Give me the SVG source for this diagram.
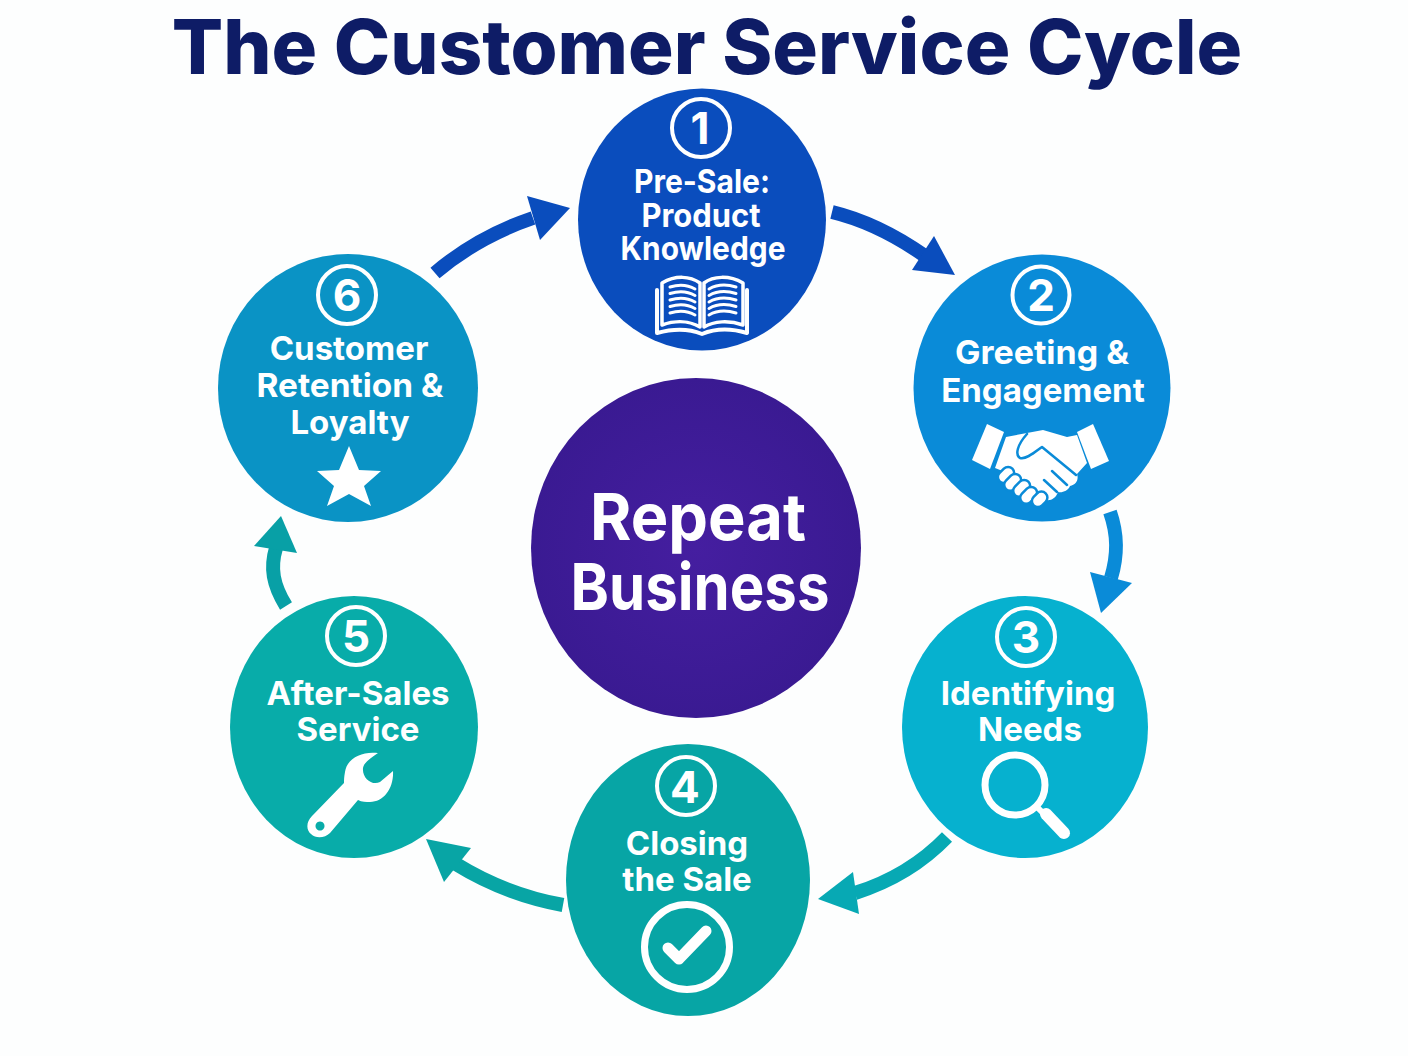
<svg xmlns="http://www.w3.org/2000/svg" width="1408" height="1056" viewBox="0 0 1408 1056">
<style>
text{font-family:"Inter","Liberation Sans",sans-serif;font-weight:700;fill:#fff;text-anchor:middle}
.l{font-size:33px}
.n{font-size:44px}
.b{fill:none;stroke:#fff;stroke-width:4}
.i{fill:#fff}
.is{fill:none;stroke:#fff;stroke-linecap:round;stroke-linejoin:round}
.s{fill:none;stroke-width:14}
</style>
<defs>
<radialGradient id="gc"><stop offset="0" stop-color="#451ea0"/><stop offset="1" stop-color="#3a1a92"/></radialGradient>
</defs>
<rect width="1408" height="1056" fill="#fdfefe"/>
<text id="title" x="707" y="74" style="font-size:76px;font-weight:800;fill:#0e1c66">The Customer Service Cycle</text>
<g id="connectors">
<path class="s" stroke="#0a4dbd" d="M832 212C865 220 895 235 925 256"/><polygon fill="#0a4dbd" points="955,275 912,270 934,236"/>
<path class="s" stroke="#0a8bd8" d="M1110 512C1118 535 1118 555 1111 578"/><polygon fill="#0a8bd8" points="1101,613 1090,572 1132,583"/>
<path class="s" stroke="#07a9b4" d="M947 837C920 865 890 882 855 893"/><polygon fill="#07a9b4" points="818,899 853,872 859,914"/>
<path class="s" stroke="#08a5a5" d="M563 905C525 898 490 885 456 864"/><polygon fill="#08a5a5" points="426,839 471,848 444,882"/>
<path class="s" stroke="#08a0a6" d="M286 606C273 585 270 568 276 548"/><polygon fill="#08a0a6" points="281,516 297,553 254,546"/>
<path class="s" stroke="#0a4dbd" d="M435 273C462 250 495 231 533 218"/><polygon fill="#0a4dbd" points="570,208 540,240 527,196"/>
</g>
<g id="node1">
<ellipse cx="702" cy="219.5" rx="124" ry="131" fill="#0a4dbd"/>
<circle class="b" cx="701" cy="128" r="29"/><text class="n" x="700" y="144">1</text>
<text class="l" x="702" y="193" textLength="136" lengthAdjust="spacingAndGlyphs">Pre-Sale:</text><text class="l" x="701" y="227" textLength="119" lengthAdjust="spacingAndGlyphs">Product</text><text class="l" x="703" y="260" textLength="165" lengthAdjust="spacingAndGlyphs">Knowledge</text>
<path class="is" stroke-width="3.500" d="M662 283C676 275 690 276 700 283V327C690 321 676 320 662 325ZM743 283C729 275 713 276 704 283V327C714 321 729 320 743 325Z"/>
<path class="is" stroke-width="3" d="M670 287C680 284 688 285 695 289M670 293.500C680 290.500 688 291.500 695 295.500M670 300C680 297 688 298 695 302M670 306.500C680 303.500 688 304.500 695 308.500M670 313C680 310 688 311 695 315M709 289C716 285 726 284 736 287M709 295.500C716 291.500 726 290.500 736 293.500M709 302C716 298 726 297 736 300M709 308.500C716 304.500 726 303.500 736 306.500M709 315C716 311 726 310 736 313"/>
<path class="is" stroke-width="4" d="M657 290V333C675 328 690 329 702 334C714 329 730 328 747 333V290"/>
</g>
<g id="node2">
<ellipse cx="1042" cy="388" rx="128.500" ry="133.500" fill="#0a8bd8"/>
<circle class="b" cx="1041" cy="295" r="28.500"/><text class="n" x="1041" y="311">2</text>
<text class="l" x="1042" y="364" textLength="174" lengthAdjust="spacingAndGlyphs">Greeting &amp;</text><text class="l" x="1043" y="402">Engagement</text>
<polygon class="i" points="987,424 1004,432 990,469 972,460"/><polygon class="i" points="1093,424 1109,461 1091,469 1077,432"/>
<path class="i" d="M995 468L1006 437L1027 433L1043 430L1067 437L1077 435L1087 463L1077 474C1079 480 1076 485 1070 486C1068 491 1062 493 1058 492C1056 498 1051 501 1046 500L1036 490L1015 476Z"/>
<g stroke="#0a8bd8" stroke-width="2.500" fill="#fff">
<rect x="1000" y="466" width="12" height="18" rx="6" transform="rotate(45 1006 475)"/>
<rect x="1007" y="473" width="12" height="19" rx="6" transform="rotate(45 1013 482)"/>
<rect x="1016" y="479" width="12" height="19" rx="6" transform="rotate(45 1022 488)"/>
<rect x="1023" y="486" width="12" height="19" rx="6" transform="rotate(45 1029 495)"/>
<rect x="1034" y="491" width="12" height="17" rx="6" transform="rotate(45 1040 499)"/>
</g>
<path fill="none" stroke="#0a8bd8" stroke-width="2.500" stroke-linecap="round" stroke-linejoin="round" d="M1027 434C1017 445 1015 455 1020 458C1026 460 1035 452 1042 447L1076 475M1052 471L1067 485M1044 480L1057 492"/>
</g>
<g id="node3">
<ellipse cx="1025" cy="727" rx="123" ry="131" fill="#06b1cf"/>
<circle class="b" cx="1026" cy="637" r="29"/><text class="n" x="1026" y="653">3</text>
<text class="l" x="1028" y="705">Identifying</text><text class="l" x="1030" y="741">Needs</text>
<circle class="b" style="stroke-width:7" cx="1015" cy="785" r="30"/>
<path class="is" stroke-width="6" d="M1037 807L1046 816"/><path class="is" stroke-width="12" d="M1046 814L1064 833"/>
</g>
<g id="node4">
<ellipse cx="688" cy="880" rx="122" ry="136" fill="#07a5a5"/>
<circle class="b" cx="686" cy="786" r="29"/><text class="n" x="685" y="803">4</text>
<text class="l" x="687" y="855">Closing</text><text class="l" x="687" y="891">the Sale</text>
<circle class="b" style="stroke-width:7" cx="687" cy="947" r="42.500"/>
<path class="is" stroke-width="11" d="M668 948L679 959L706 931"/>
</g>
<g id="node5">
<ellipse cx="354" cy="727" rx="124" ry="131" fill="#08aca9"/>
<circle class="b" cx="356" cy="636" r="29"/><text class="n" x="356" y="652">5</text>
<text class="l" x="358" y="705">After-Sales</text><text class="l" x="358" y="741">Service</text>
<path class="i" fill-rule="evenodd" d="M378 753C362 751 347 758 345 772C344 777 344 780 344 783L312 816C306 822 306 830 311 834C316 839 325 838 330 833L358 800C362 802 366 802 370 802C384 802 394 788 393 771L380 782C372 786 362 778 363 768C364 762 371 758 378 753ZM320 821.500A4.500 4.500 0 1 0 320.010 821.500Z"/>
</g>
<g id="node6">
<ellipse cx="348" cy="388" rx="130" ry="134" fill="#0a93c5"/>
<circle class="b" cx="347" cy="295" r="29"/><text class="n" x="347" y="311">6</text>
<text class="l" x="349" y="360">Customer</text><text class="l" x="350" y="397" textLength="187" lengthAdjust="spacingAndGlyphs">Retention &amp;</text><text class="l" x="350" y="434">Loyalty</text>
<polygon class="i" points="349,446 359,470 381,471 364,486 371,506 349,494 327,506 334,486 317,471 339,470"/>
</g>
<g id="center">
<ellipse cx="696" cy="548" rx="165" ry="170" fill="url(#gc)"/>
<text x="698" y="540" style="font-size:65px" textLength="216" lengthAdjust="spacingAndGlyphs">Repeat</text><text x="700" y="610" style="font-size:65px" textLength="259" lengthAdjust="spacingAndGlyphs">Business</text>
</g>
</svg>
